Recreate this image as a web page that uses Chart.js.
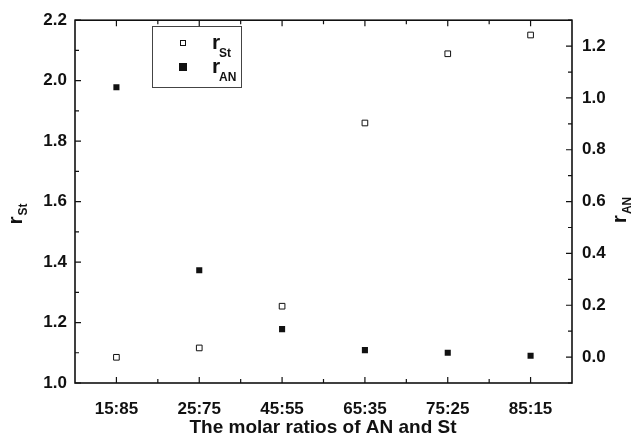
<!DOCTYPE html>
<html>
<head>
<meta charset="utf-8">
<script src="https://cdn.jsdelivr.net/npm/chart.js@4/dist/chart.umd.min.js"></script>
<style>
html,body{margin:0;padding:0;background:#fff;}
#wrap{width:638px;height:442px;position:relative;}
</style>
</head>
<body>
<div id="wrap"><canvas id="c" width="638" height="442"></canvas></div>
<script>
const categories = ["15:85", "25:75", "45:55", "65:35", "75:25", "85:15"];
const rSt = [1.085, 1.116, 1.254, 1.860, 2.089, 2.151];
const rAN = [1.041, 0.335, 0.108, 0.027, 0.017, 0.005];
const leftTicks = {min: 1.0, max: 2.2, step: 0.1};
const rightTicks = {min: -0.1, max: 1.3, step: 0.1};
const xTitle = "The molar ratios of AN and St";

const FONT = '"Liberation Sans", Arial, sans-serif';

function drawSub(ctx, main, sub, x, y, mainSize, subSize, rot) {
  ctx.save();
  ctx.translate(x, y);
  if (rot) ctx.rotate(rot);
  ctx.fillStyle = '#111';
  ctx.textBaseline = 'alphabetic';
  ctx.textAlign = 'left';
  ctx.font = 'bold ' + mainSize + 'px ' + FONT;
  const w1 = ctx.measureText(main).width;
  ctx.font = 'bold ' + subSize + 'px ' + FONT;
  const w2 = ctx.measureText(sub).width;
  const total = w1 + w2 + 1;
  ctx.font = 'bold ' + mainSize + 'px ' + FONT;
  ctx.fillText(main, -total / 2, 0);
  ctx.font = 'bold ' + subSize + 'px ' + FONT;
  ctx.fillText(sub, -total / 2 + w1 + 1, subSize * 0.45);
  ctx.restore();
}

const framePlugin = {
  id: 'frame',
  afterDraw(chart) {
    const ctx = chart.ctx;
    const a = chart.chartArea;
    const xs = chart.scales.x, yl = chart.scales.y, yr = chart.scales.y1;
    ctx.save();
    ctx.strokeStyle = '#111';
    ctx.lineWidth = 1.6;
    ctx.strokeRect(a.left, a.top, a.right - a.left, a.bottom - a.top);
    ctx.lineWidth = 1.2;
    ctx.beginPath();
    yl.ticks.forEach(t => {
      const p = yl.getPixelForValue(t.value);
      const major = Math.round(t.value * 10) % 2 === 0;
      const len = major ? 6 : 4;
      ctx.moveTo(a.left, p); ctx.lineTo(a.left + len, p);
    });
    yr.ticks.forEach(t => {
      const p = yr.getPixelForValue(t.value);
      const major = Math.abs(Math.round(t.value * 10)) % 2 === 0;
      const len = major ? 6 : 4;
      ctx.moveTo(a.right, p); ctx.lineTo(a.right - len, p);
    });
    const n = categories.length;
    const half = (xs.getPixelForValue(1) - xs.getPixelForValue(0)) / 2;
    for (let i = 0; i < n; i++) {
      const p = xs.getPixelForValue(i);
      ctx.moveTo(p, a.bottom); ctx.lineTo(p, a.bottom - 6);
      ctx.moveTo(p, a.top); ctx.lineTo(p, a.top + 6);
      if (i < n - 1) {
        ctx.moveTo(p + half, a.bottom); ctx.lineTo(p + half, a.bottom - 4);
        ctx.moveTo(p + half, a.top); ctx.lineTo(p + half, a.top + 4);
      }
    }
    ctx.stroke();

    // axis titles
    drawSub(ctx, 'r', 'St', 22, 214, 21, 12, -Math.PI / 2);
    drawSub(ctx, 'r', 'AN', 626, 210, 21, 12, -Math.PI / 2);
    ctx.font = 'bold 19px ' + FONT;
    ctx.fillStyle = '#111';
    ctx.textAlign = 'center';
    ctx.textBaseline = 'middle';
    ctx.fillText(xTitle, 323, 428);

    // legend
    ctx.lineWidth = 1;
    ctx.strokeStyle = '#444';
    ctx.strokeRect(152.5, 26.5, 89, 61);
    ctx.fillStyle = '#fff';
    ctx.strokeStyle = '#111';
    ctx.fillRect(180.5, 40.5, 5, 5);
    ctx.strokeRect(180.5, 40.5, 5, 5);
    ctx.fillStyle = '#111';
    ctx.fillRect(179, 63, 8, 8);
    ctx.textAlign = 'left';
    ctx.textBaseline = 'alphabetic';
    ctx.font = 'bold 21px ' + FONT;
    ctx.fillText('r', 212, 49);
    ctx.fillText('r', 212, 73);
    ctx.font = 'bold 12px ' + FONT;
    ctx.fillText('St', 219, 57);
    ctx.fillText('AN', 219, 81);
    ctx.restore();
  }
};

const tickFont = {family: FONT, size: 17, weight: 'bold'};

new Chart(document.getElementById('c'), {
  type: 'line',
  data: {
    labels: categories,
    datasets: [
      {
        label: 'rSt', data: rSt, yAxisID: 'y', showLine: false,
        pointStyle: 'rect', pointRadius: 4, pointHoverRadius: 4,
        pointBackgroundColor: '#fff', pointBorderColor: '#111', pointBorderWidth: 1
      },
      {
        label: 'rAN', data: rAN, yAxisID: 'y1', showLine: false,
        pointStyle: 'rect', pointRadius: 4.3, pointHoverRadius: 4.3,
        pointBackgroundColor: '#111', pointBorderColor: '#111', pointBorderWidth: 0
      }
    ]
  },
  options: {
    responsive: false,
    animation: false,
    events: [],
    layout: {padding: {top: 20, left: 0, right: 0, bottom: 0}},
    plugins: {legend: {display: false}, tooltip: {enabled: false}},
    scales: {
      x: {
        type: 'category', offset: true,
        grid: {display: false, drawTicks: false},
        border: {display: false},
        ticks: {color: '#111', font: tickFont, padding: 16, maxRotation: 0, autoSkip: false},
        afterFit(s) { s.height = 59; }
      },
      y: {
        position: 'left', min: leftTicks.min, max: leftTicks.max,
        grid: {display: false, drawTicks: false},
        border: {display: false},
        ticks: {
          stepSize: leftTicks.step, autoSkip: false, color: '#111', font: tickFont, padding: 8,
          callback: v => (Math.round(v * 10) % 2 === 0 ? v.toFixed(1) : '')
        },
        afterFit(s) { s.width = 75; }
      },
      y1: {
        position: 'right', min: rightTicks.min, max: rightTicks.max,
        grid: {display: false, drawTicks: false},
        border: {display: false},
        ticks: {
          stepSize: rightTicks.step, autoSkip: false, color: '#111', font: tickFont, padding: 10,
          callback: v => {
            const k = Math.round(v * 10);
            if (k < 0 || k > 12 || Math.abs(k) % 2 !== 0) return '';
            return (k / 10).toFixed(1);
          }
        },
        afterFit(s) { s.width = 66; }
      }
    }
  },
  plugins: [framePlugin]
});
</script>
</body>
</html>
